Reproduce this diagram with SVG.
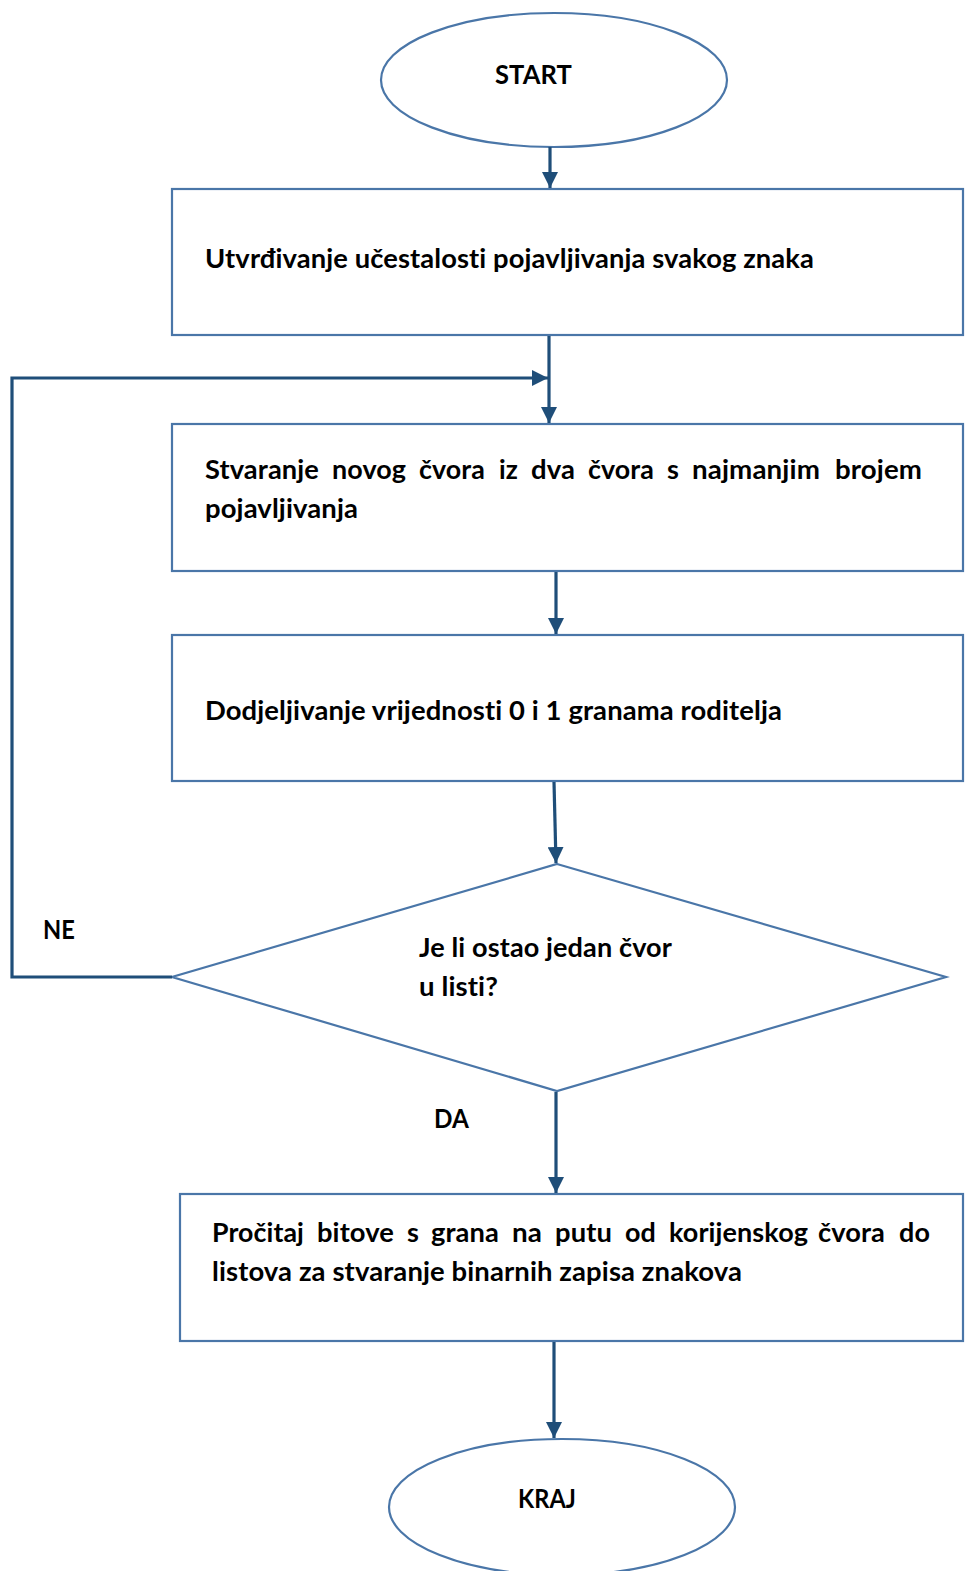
<svg xmlns="http://www.w3.org/2000/svg" width="965" height="1571" viewBox="0 0 965 1571">
<style>
.shape{fill:#ffffff;stroke:#4a76a8;stroke-width:2.2}
.conn{fill:none;stroke:#1f4e79;stroke-width:3.2}
.t{font-family:Lato,"Open Sans","Liberation Sans",sans-serif;font-weight:bold;font-size:26px;fill:#000000;font-variant-ligatures:none;font-feature-settings:"liga" 0,"clig" 0;letter-spacing:0.1px}
</style>
<defs>
<marker id="arr" viewBox="0 0 16 16" markerWidth="16" markerHeight="16" markerUnits="userSpaceOnUse" refX="16" refY="8" orient="auto">
<path d="M0,0 L16,8 L0,16 z" fill="#1f4e79"/>
</marker>
</defs>
<rect width="965" height="1571" fill="#ffffff"/>

<g id="start">
<ellipse class="shape" cx="554" cy="80" rx="173" ry="67"/>
<text class="t" x="495" y="84" textLength="77" lengthAdjust="spacingAndGlyphs">START</text>
</g>

<g id="box1">
<rect class="shape" x="172" y="189" width="791" height="146"/>
<text class="t" x="205" y="268" textLength="609" lengthAdjust="spacingAndGlyphs">Utvrđivanje učestalosti pojavljivanja svakog znaka</text>
</g>

<g id="box2">
<rect class="shape" x="172" y="424" width="791" height="147"/>
<text class="t" y="479">
<tspan x="205" textLength="114" lengthAdjust="spacingAndGlyphs">Stvaranje</tspan>
<tspan x="332" textLength="74" lengthAdjust="spacingAndGlyphs">novog</tspan>
<tspan x="419" textLength="66" lengthAdjust="spacingAndGlyphs">čvora</tspan>
<tspan x="499" textLength="19" lengthAdjust="spacingAndGlyphs">iz</tspan>
<tspan x="531" textLength="44" lengthAdjust="spacingAndGlyphs">dva</tspan>
<tspan x="588" textLength="66" lengthAdjust="spacingAndGlyphs">čvora</tspan>
<tspan x="667" textLength="12" lengthAdjust="spacingAndGlyphs">s</tspan>
<tspan x="692" textLength="128" lengthAdjust="spacingAndGlyphs">najmanjim</tspan>
<tspan x="835" textLength="87" lengthAdjust="spacingAndGlyphs">brojem</tspan>
</text>
<text class="t" x="205" y="518" textLength="153" lengthAdjust="spacingAndGlyphs">pojavljivanja</text>
</g>

<g id="box3">
<rect class="shape" x="172" y="635" width="791" height="146"/>
<text class="t" x="205" y="720" textLength="577" lengthAdjust="spacingAndGlyphs">Dodjeljivanje vrijednosti 0 i 1 granama roditelja</text>
</g>

<g id="decision">
<polygon class="shape" points="557,864 946,977 557,1091 172,977"/>
<text class="t" x="419" y="957" textLength="253" lengthAdjust="spacingAndGlyphs">Je li ostao jedan čvor</text>
<text class="t" x="419" y="996" textLength="79" lengthAdjust="spacingAndGlyphs">u listi?</text>
</g>

<g id="box4">
<rect class="shape" x="180" y="1194" width="783" height="147"/>
<text class="t" y="1242">
<tspan x="212" textLength="92" lengthAdjust="spacingAndGlyphs">Pročitaj</tspan>
<tspan x="317" textLength="77" lengthAdjust="spacingAndGlyphs">bitove</tspan>
<tspan x="407" textLength="12" lengthAdjust="spacingAndGlyphs">s</tspan>
<tspan x="431" textLength="68" lengthAdjust="spacingAndGlyphs">grana</tspan>
<tspan x="512" textLength="30" lengthAdjust="spacingAndGlyphs">na</tspan>
<tspan x="555" textLength="57" lengthAdjust="spacingAndGlyphs">putu</tspan>
<tspan x="625" textLength="31" lengthAdjust="spacingAndGlyphs">od</tspan>
<tspan x="669" textLength="139" lengthAdjust="spacingAndGlyphs">korijenskog</tspan>
<tspan x="818" textLength="67" lengthAdjust="spacingAndGlyphs">čvora</tspan>
<tspan x="899" textLength="31" lengthAdjust="spacingAndGlyphs">do</tspan>
</text>
<text class="t" x="212" y="1281" textLength="530" lengthAdjust="spacingAndGlyphs">listova za stvaranje binarnih zapisa znakova</text>
</g>

<g id="end">
<ellipse class="shape" cx="562" cy="1507" rx="173" ry="68"/>
<text class="t" x="518" y="1508" textLength="58" lengthAdjust="spacingAndGlyphs">KRAJ</text>
</g>

<g id="labels">
<text class="t" x="43" y="939" textLength="32" lengthAdjust="spacingAndGlyphs">NE</text>
<text class="t" x="434" y="1128" textLength="35" lengthAdjust="spacingAndGlyphs">DA</text>
</g>

<g id="connectors">
<line class="conn" x1="550" y1="147" x2="550" y2="188" marker-end="url(#arr)"/>
<line class="conn" x1="549" y1="336" x2="549" y2="423" marker-end="url(#arr)"/>
<polyline class="conn" points="172,977 12,977 12,378 548,378" marker-end="url(#arr)"/>
<line class="conn" x1="556" y1="572" x2="556" y2="634" marker-end="url(#arr)"/>
<line class="conn" x1="554" y1="782" x2="556" y2="863" marker-end="url(#arr)"/>
<line class="conn" x1="556" y1="1092" x2="556" y2="1193" marker-end="url(#arr)"/>
<line class="conn" x1="554" y1="1342" x2="554" y2="1438" marker-end="url(#arr)"/>
</g>
</svg>
